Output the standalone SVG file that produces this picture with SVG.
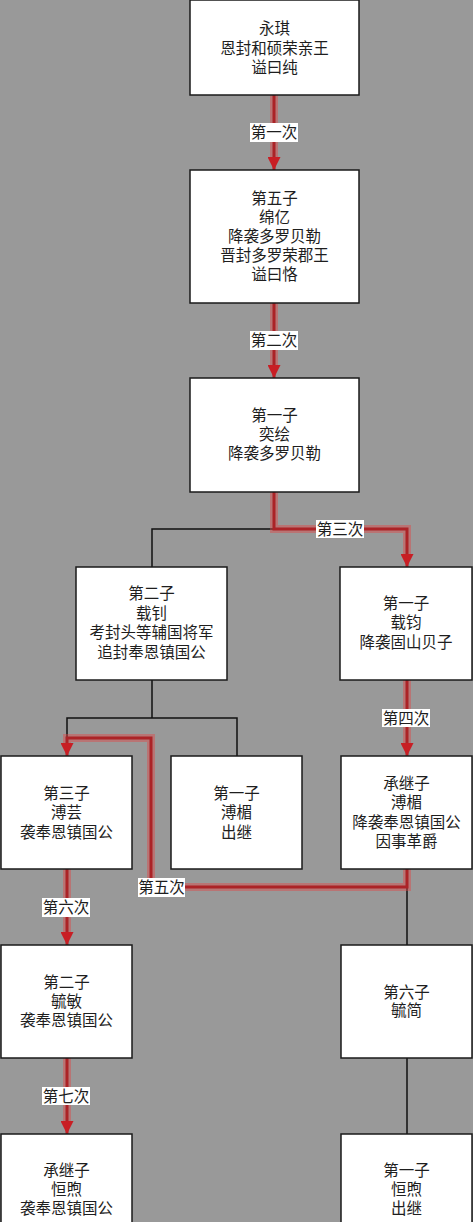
<svg xmlns="http://www.w3.org/2000/svg" width="473" height="1222" viewBox="0 0 473 1222">
<defs>
<style>
.node rect{fill:#ffffff;stroke:#1a1a1a;stroke-width:1.5}
.node text,.lbl text{font-family:"Liberation Serif","Noto Sans CJK SC",serif;font-size:15.5px;fill:#1e1e1e;text-anchor:middle;dominant-baseline:central}
.glow{fill:none;stroke:#e04848;stroke-opacity:0.45;stroke-width:8}
.red{fill:none;stroke:#ab2327;stroke-width:3}
.blk{fill:none;stroke:#111;stroke-width:1.5}
.lbl rect{fill:#ffffff}
</style>
<marker id="ah" viewBox="0 0 12 12" markerWidth="13" markerHeight="13" markerUnits="userSpaceOnUse" refX="12" refY="6" orient="auto">
<path d="M0,0 L12,6 L0,12 z" fill="#c81e24"/>
</marker>
</defs>
<rect width="473" height="1222" fill="#999999"/>
<g id="connectors">
<path class="blk" d="M274 529 H152 V567"/>
<path class="blk" d="M152 680 V718 H67 V756 M152 718 H237 V756"/>
<path class="blk" d="M407 887 V945"/>
<path class="blk" d="M407 1058 V1134"/>
<g>
<path class="glow" d="M274 95 V162"/>
<path class="glow" d="M274 303 V370"/>
<path class="glow" d="M274 492 V529 H407 V559"/>
<path class="glow" d="M407 680 V748"/>
<path class="glow" d="M407 869 V887 H151 V738 H67 V748"/>
<path class="glow" d="M67 869 V937"/>
<path class="glow" d="M67 1058 V1126"/>
</g>
<path class="red" d="M274 95 V170" marker-end="url(#ah)"/>
<path class="red" d="M274 303 V378" marker-end="url(#ah)"/>
<path class="red" d="M274 492 V529 H407 V567" marker-end="url(#ah)"/>
<path class="red" d="M407 680 V756" marker-end="url(#ah)"/>
<path class="red" d="M407 869 V887 H151 V738 H67 V756" marker-end="url(#ah)"/>
<path class="red" d="M67 869 V945" marker-end="url(#ah)"/>
<path class="red" d="M67 1058 V1134" marker-end="url(#ah)"/>
<g class="lbl">
<rect x="250" y="123" width="48" height="19"/><text x="274" y="132.5">第一次</text>
<rect x="250" y="331" width="48" height="19"/><text x="274" y="340.5">第二次</text>
<rect x="316" y="520" width="48" height="18"/><text x="340" y="529">第三次</text>
<rect x="382" y="709" width="48" height="18"/><text x="406" y="718">第四次</text>
<rect x="138" y="878" width="47" height="19"/><text x="161.5" y="887.5">第五次</text>
<rect x="42" y="898" width="48" height="19"/><text x="66" y="907.5">第六次</text>
<rect x="42" y="1087" width="48" height="18"/><text x="66" y="1096">第七次</text>
</g>
</g>
<g id="n1" class="node"><rect x="190" y="0" width="169" height="95"/>
<text x="274.5" y="28">永琪</text><text x="274.5" y="48">恩封和硕荣亲王</text><text x="274.5" y="67">谥曰纯</text></g>
<g id="n2" class="node"><rect x="190" y="170" width="169" height="133"/>
<text x="274.5" y="198">第五子</text><text x="274.5" y="217">绵亿</text><text x="274.5" y="236">降袭多罗贝勒</text><text x="274.5" y="255">晋封多罗荣郡王</text><text x="274.5" y="274">谥曰恪</text></g>
<g id="n3" class="node"><rect x="190" y="378" width="169" height="114"/>
<text x="274.5" y="415">第一子</text><text x="274.5" y="434">奕绘</text><text x="274.5" y="453">降袭多罗贝勒</text></g>
<g id="n4" class="node"><rect x="76" y="567" width="151" height="113"/>
<text x="151.5" y="593">第二子</text><text x="151.5" y="613">载钊</text><text x="151.5" y="632.5">考封头等辅国将军</text><text x="151.5" y="652">追封奉恩镇国公</text></g>
<g id="n5" class="node"><rect x="340" y="567" width="132" height="113"/>
<text x="406" y="603">第一子</text><text x="406" y="622.5">载钧</text><text x="406" y="642">降袭固山贝子</text></g>
<g id="n6" class="node"><rect x="1" y="756" width="131" height="113"/>
<text x="66.5" y="793">第三子</text><text x="66.5" y="812.5">溥芸</text><text x="66.5" y="832">袭奉恩镇国公</text></g>
<g id="n7" class="node"><rect x="171" y="756" width="131" height="113"/>
<text x="236.5" y="793">第一子</text><text x="236.5" y="812.5">溥楣</text><text x="236.5" y="832">出继</text></g>
<g id="n8" class="node"><rect x="341" y="756" width="131" height="113"/>
<text x="406.5" y="783">承继子</text><text x="406.5" y="802.5">溥楣</text><text x="406.5" y="822">降袭奉恩镇国公</text><text x="406.5" y="841.5">因事革爵</text></g>
<g id="n9" class="node"><rect x="1" y="945" width="131" height="113"/>
<text x="66.5" y="982">第二子</text><text x="66.5" y="1001">毓敏</text><text x="66.5" y="1020">袭奉恩镇国公</text></g>
<g id="n10" class="node"><rect x="341" y="945" width="131" height="113"/>
<text x="406.5" y="992">第六子</text><text x="406.5" y="1010.5">毓简</text></g>
<g id="n11" class="node"><rect x="1" y="1134" width="131" height="100"/>
<text x="66.5" y="1170">承继子</text><text x="66.5" y="1189.5">恒煦</text><text x="66.5" y="1208.5">袭奉恩镇国公</text></g>
<g id="n12" class="node"><rect x="341" y="1134" width="131" height="100"/>
<text x="406.5" y="1170">第一子</text><text x="406.5" y="1189.5">恒煦</text><text x="406.5" y="1208.5">出继</text></g>
</svg>
